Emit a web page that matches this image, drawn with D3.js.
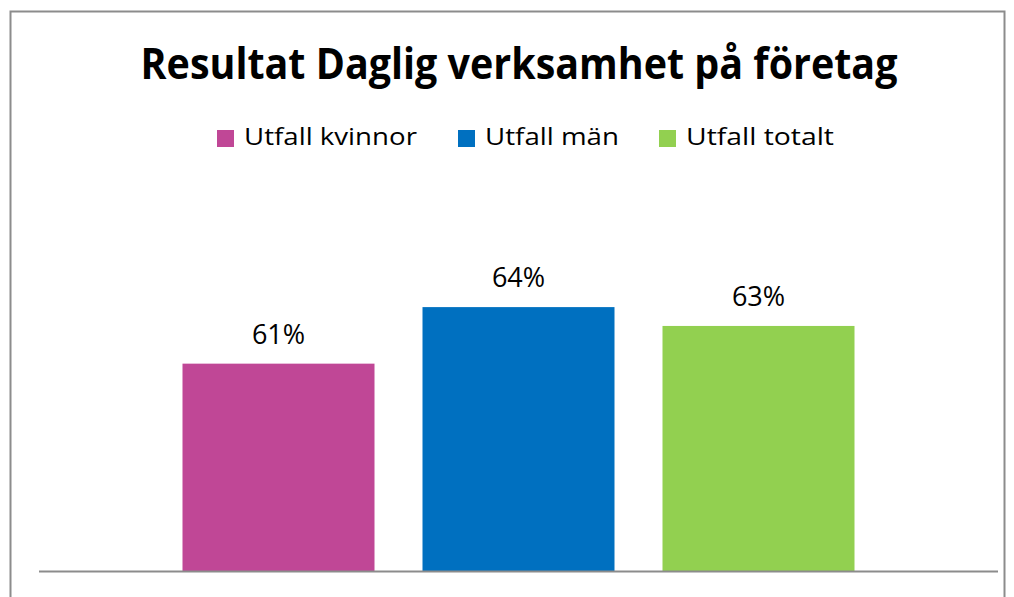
<!DOCTYPE html>
<html>
<head>
<meta charset="utf-8">
<script src="https://cdn.jsdelivr.net/npm/d3@7"></script>
<style>
  body { margin: 0; background: #fff; }
  text { font-family: "Open Sans", "Noto Sans", sans-serif; fill: #000; }
</style>
</head>
<body>
<div class="chart"></div>
<script>
// data
var title = 'Resultat Daglig verksamhet på företag';
var seriesNames = ['Utfall kvinnor', 'Utfall män', 'Utfall totalt'];
var seriesValues = [61, 64, 63];
var seriesColors = ['#c04796', '#0070c0', '#92d050'];
var yDomain = [50, 70];

var width = 1014, height = 597;
var plot = {left: 39, right: 998, top: 194, bottom: 571};

var svg = d3.select('.chart').append('svg')
    .attr('width', width).attr('height', height);

// squeeze/stretch a text horizontally so it spans the width seen in the picture
function fitWidth(sel, target) {
    var w = sel.node().getComputedTextLength();
    return target / w;
}

// chart frame
svg.append('rect').attr('x', 10.5).attr('y', 11.5)
    .attr('width', 994).attr('height', 600)
    .attr('fill', 'none').attr('stroke', '#8c8c8c').attr('stroke-width', 2);

var t = svg.append('text').attr('text-anchor', 'middle')
    .style('font-weight', 'bold').style('font-size', '43px').text(title);
t.attr('transform', `translate(519, 79) scale(${fitWidth(t, 757)}, 1)`);

// one category holding three series, centred in the plot
var groupW = 672;
var cx = (plot.left + plot.right) / 2;
var gx = d3.scaleBand().domain(seriesNames)
    .range([cx - groupW / 2 - 24, cx + groupW / 2 + 24])
    .paddingInner(0.2).paddingOuter(0.1);

var y = d3.scaleLinear().domain(yDomain).range([plot.bottom, plot.top]);

var data = seriesNames.map(function(n, i) {
    return {name: n, value: seriesValues[i], color: seriesColors[i]};
});

svg.selectAll('rect.bar').data(data).enter().append('rect')
    .attr('class', 'bar')
    .attr('x', d => gx(d.name))
    .attr('width', gx.bandwidth())
    .attr('y', d => y(d.value))
    .attr('height', d => plot.bottom - y(d.value))
    .attr('fill', d => d.color);

svg.selectAll('text.lbl').data(data).enter().append('text')
    .attr('class', 'lbl')
    .attr('x', d => gx(d.name) + gx.bandwidth() / 2)
    .attr('y', d => y(d.value) - 20)
    .attr('text-anchor', 'middle')
    .style('font-size', '27px')
    .text(d => d.value + '%');

// category axis line
svg.append('line').attr('x1', plot.left).attr('x2', plot.right)
    .attr('y1', plot.bottom + 0.5).attr('y2', plot.bottom + 0.5)
    .attr('stroke', '#8c8c8c').attr('stroke-width', 2);

// legend
var legendX = [217, 458, 659];
var legendW = [173, 134, 148];
var lg = svg.selectAll('g.leg').data(data).enter().append('g')
    .attr('class', 'leg')
    .attr('transform', (d, i) => `translate(${legendX[i]}, 129)`);
lg.append('rect').attr('y', 1).attr('width', 17).attr('height', 17).attr('fill', d => d.color);
lg.append('text').style('font-size', '23px').text(d => d.name)
    .each(function(d, i) {
        var s = d3.select(this);
        s.attr('transform', `translate(27, 16) scale(${fitWidth(s, legendW[i])}, 1)`);
    });
</script>
</body>
</html>
